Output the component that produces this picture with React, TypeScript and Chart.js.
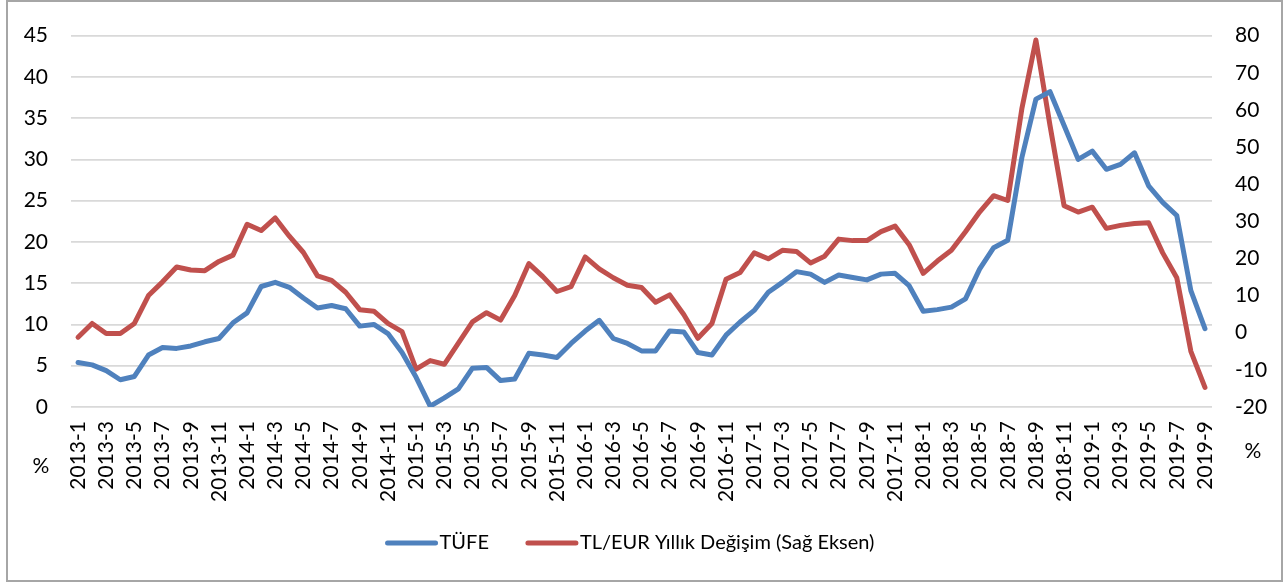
import React, { useEffect, useRef } from "react";
import { Chart, registerables } from "chart.js";

Chart.register(...registerables);

// ---- data ----
const startYear = 2013;
const endYear = 2019;
const endMonth = 9;
const categories: string[] = [];
for (let y = startYear; y <= endYear; y++) {
  for (let m = 1; m <= 12; m++) {
    if (y === endYear && m > endMonth) break;
    categories.push(`${y}-${m}`);
  }
}

const seriesNames = ["TÜFE", "TL/EUR Yıllık Değişim (Sağ Eksen)"];

const tufe = [
  5.4, 5.1, 4.4, 3.3, 3.7, 6.3, 7.2, 7.1, 7.4, 7.9, 8.3, 10.2,
  11.4, 14.6, 15.1, 14.5, 13.2, 12.0, 12.3, 11.9, 9.8, 10.0, 8.9, 6.6,
  3.6, 0.1, 1.1, 2.2, 4.7, 4.8, 3.2, 3.4, 6.5, 6.3, 6.0, 7.7,
  9.2, 10.5, 8.3, 7.7, 6.8, 6.8, 9.2, 9.1, 6.6, 6.3, 8.7, 10.3,
  11.7, 13.9, 15.1, 16.4, 16.1, 15.1, 16.0, 15.7, 15.4, 16.1, 16.2, 14.7,
  11.6, 11.8, 12.1, 13.1, 16.7, 19.3, 20.2, 30.2, 37.3, 38.2, 34.1, 30.0,
  31.0, 28.8, 29.4, 30.8, 26.8, 24.8, 23.2, 14.1, 9.5,
];

const tlEur = [
  -1.2, 2.5, -0.2, -0.2, 2.5, 10.0, 13.7, 17.7, 16.9, 16.7, 19.2, 20.9,
  29.2, 27.5, 30.9, 26.0, 21.6, 15.3, 14.1, 10.9, 6.2, 5.8, 2.5, 0.3,
  -9.8, -7.5, -8.5, -2.8, 2.9, 5.4, 3.4, 10.0, 18.6, 15.1, 11.1, 12.4,
  20.4, 17.2, 14.8, 12.8, 12.2, 8.2, 10.2, 4.9, -1.5, 2.5, 14.4, 16.2,
  21.5, 19.9, 22.2, 21.9, 18.8, 20.6, 25.2, 24.8, 24.8, 27.2, 28.7, 23.7,
  16.0, 19.3, 22.2, 27.2, 32.5, 36.9, 35.6, 60.3, 78.8, 55.8, 34.2, 32.5,
  33.8, 28.1, 28.9, 29.4, 29.6, 21.5, 14.8, -5.0, -14.7,
];

const leftAxis = { min: 0, max: 45, step: 5 };
const rightAxis = { min: -20, max: 80, step: 10 };
const unitLabel = "%";

// ---- styles ----
const BLUE = "#4f81bd";
const RED = "#c0504d";
const GRID = "#d9d9d9";
const TEXT = "#000000";
const FONT_FAMILY = "Lato, 'Noto Sans', sans-serif";
const FONT_SIZE = 21;
const LEGEND_FONT_SIZE = 20;

const overlayPlugin = {
  id: "overlay",
  afterDraw(chart: any) {
    const ctx = chart.ctx as CanvasRenderingContext2D;
    ctx.save();
    ctx.font = `${FONT_SIZE}px ${FONT_FAMILY}`;
    ctx.fillStyle = TEXT;
    ctx.textBaseline = "middle";
    ctx.textAlign = "center";
    // unit labels under the axes
    ctx.fillText(unitLabel, 41, 466);
    ctx.fillText(unitLabel, 1253, 451);

    // legend
    ctx.font = `${LEGEND_FONT_SIZE}px ${FONT_FAMILY}`;
    const lineLen = 52;
    const gapText = 2;
    const gapItems = 37;
    const w0 = ctx.measureText(seriesNames[0]).width;
    const w1 = ctx.measureText(seriesNames[1]).width;
    const total = lineLen + gapText + w0 + gapItems + lineLen + gapText + w1;
    const ly = 543;
    let x = chart.width / 2 - 14 - total / 2;
    const colors = [BLUE, RED];
    const widths = [w0, w1];
    ctx.textAlign = "left";
    ctx.lineCap = "round";
    ctx.lineWidth = 5;
    for (let i = 0; i < 2; i++) {
      ctx.strokeStyle = colors[i];
      ctx.beginPath();
      ctx.moveTo(x + 2, ly);
      ctx.lineTo(x + lineLen - 2, ly);
      ctx.stroke();
      x += lineLen + gapText;
      ctx.fillStyle = TEXT;
      ctx.fillText(seriesNames[i], x, ly);
      x += widths[i] + gapItems;
    }
    ctx.restore();
  },
};

export default function App() {
  const canvasRef = useRef<HTMLCanvasElement | null>(null);

  useEffect(() => {
    const canvas = canvasRef.current;
    if (!canvas) return;
    const font = { family: FONT_FAMILY, size: FONT_SIZE };
    const chart = new Chart(canvas, {
      type: "line",
      data: {
        labels: categories,
        datasets: [
          {
            label: seriesNames[0],
            data: tufe,
            borderColor: BLUE,
            backgroundColor: BLUE,
            borderWidth: 5,
            pointRadius: 0,
            tension: 0,
            borderJoinStyle: "round",
            borderCapStyle: "round",
            yAxisID: "y",
          },
          {
            label: seriesNames[1],
            data: tlEur,
            borderColor: RED,
            backgroundColor: RED,
            borderWidth: 5,
            pointRadius: 0,
            tension: 0,
            borderJoinStyle: "round",
            borderCapStyle: "round",
            yAxisID: "y1",
          },
        ],
      },
      options: {
        responsive: false,
        animation: false,
        events: [],
        layout: { padding: { left: 0, right: 0, top: 29, bottom: 0 } },
        plugins: {
          legend: { display: false },
          tooltip: { enabled: false },
        },
        scales: {
          x: {
            type: "category",
            offset: true,
            grid: { display: false, drawTicks: false },
            border: { display: false },
            ticks: {
              autoSkip: false,
              minRotation: 90,
              maxRotation: 90,
              padding: 14,
              color: TEXT,
              font,
              callback: (_v: any, i: number) => (i % 2 === 0 ? categories[i] : ""),
            },
            afterFit: (s: any) => {
              s.height = 176;
            },
          },
          y: {
            position: "left",
            min: leftAxis.min,
            max: leftAxis.max,
            grid: { color: GRID, lineWidth: 1.7, drawTicks: false },
            border: { display: false },
            ticks: { stepSize: leftAxis.step, padding: 23, color: TEXT, font },
            afterFit: (s: any) => {
              s.width = 71;
            },
          },
          y1: {
            position: "right",
            min: rightAxis.min,
            max: rightAxis.max,
            grid: { drawOnChartArea: false, drawTicks: false },
            border: { display: false },
            ticks: { stepSize: rightAxis.step, padding: 23, color: TEXT, font },
            afterFit: (s: any) => {
              s.width = 76;
            },
          },
        },
      },
      plugins: [overlayPlugin],
    } as any);
    return () => chart.destroy();
  }, []);

  return (
    <div style={{ position: "absolute", left: 0, top: 0, width: 1288, height: 583, background: "#fff" }}>
      <canvas ref={canvasRef} width={1288} height={583} style={{ position: "absolute", left: 0, top: 0, width: 1288, height: 583 }} />
      <div
        style={{
          position: "absolute",
          left: 6,
          top: 0,
          width: 1277,
          height: 582,
          border: "2px solid #a6a6a6",
          boxSizing: "border-box",
          pointerEvents: "none",
        }}
      />
    </div>
  );
}
